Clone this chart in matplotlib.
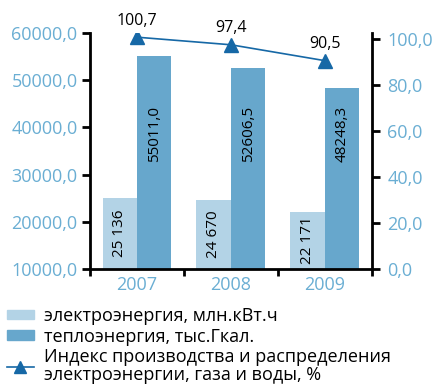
import matplotlib.pyplot as plt
import numpy as np
from matplotlib.patches import Patch
from matplotlib.lines import Line2D

plt.rcParams['font.family'] = ['Open Sans', 'DejaVu Sans']

years = ['2007', '2008', '2009']
elec = [25136, 24670, 22171]
heat = [55011.0, 52606.5, 48248.3]
index = [100.7, 97.4, 90.5]
elec_labels = ['25 136', '24 670', '22 171']
heat_labels = ['55011,0', '52606,5', '48248,3']
index_labels = ['100,7', '97,4', '90,5']

c_light = '#b3d3e6'
c_dark = '#67a7cc'
c_line = '#1668a6'
c_tick = '#6aaed3'

fig = plt.figure(figsize=(4.37, 3.86), dpi=100)
ax = fig.add_axes([0.206, 0.303, 0.645, 0.612])
ax2 = ax.twinx()

x = np.arange(len(years))
w = 0.367
base = 10000
ax.bar(x - w / 2, np.array(elec) - base, w, bottom=base, color=c_light)
ax.bar(x + w / 2, np.array(heat) - base, w, bottom=base, color=c_dark)

for i in range(len(years)):
    ax.text(x[i] - w / 2, (base + elec[i]) / 2, elec_labels[i], rotation=90,
            ha='center', va='center', fontsize=11)
    ax.text(x[i] + w / 2, 38600, heat_labels[i], rotation=90,
            ha='center', va='center', fontsize=11)

ax.set_ylim(10000, 60000)
ax.set_xlim(-0.5, 2.5)
ax.set_yticks(np.arange(10000, 60001, 10000))
ax.set_yticklabels([f'{v:.1f}'.replace('.', ',') for v in np.arange(10000, 60001, 10000)])
ax.set_xticks(x)
ax.set_xticklabels(years)
ax.set_xticks([-0.5, 0.5, 1.5, 2.5], minor=True)
ax.tick_params(axis='x', which='major', length=0, pad=5, labelsize=13, labelcolor=c_tick)
ax.tick_params(axis='x', which='minor', length=5, width=2, direction='out')
ax.tick_params(axis='y', length=6, width=2, direction='out', labelsize=13, labelcolor=c_tick, pad=3)

ax2.plot(x, index, color=c_line, lw=1.2, marker='^', markersize=10)
for i in range(len(years)):
    ax2.annotate(index_labels[i], (x[i], index[i]), xytext=(0, 6), textcoords='offset points',
                 ha='center', va='bottom', fontsize=11.5)
ax2.set_ylim(0, 102.6)
ax2.set_yticks(np.arange(0, 101, 20))
ax2.set_yticklabels([f'{v:.1f}'.replace('.', ',') for v in np.arange(0, 101, 20)])
ax2.tick_params(axis='y', length=6, width=2, direction='out', labelsize=13, labelcolor=c_tick, pad=5)

for a in (ax, ax2):
    a.spines['top'].set_visible(False)
    for s in ('left', 'right', 'bottom'):
        a.spines[s].set_linewidth(2)
ax.spines['right'].set_visible(False)
ax2.spines['left'].set_visible(False)
ax2.spines['bottom'].set_visible(False)

handles = [Patch(color=c_light), Patch(color=c_dark),
           Line2D([], [], color=c_line, lw=1.2, marker='^', markersize=8)]
labels = ['электроэнергия, млн.кВт.ч', 'теплоэнергия, тыс.Гкал.',
          'Индекс производства и распределения\nэлектроэнергии, газа и воды, %']
leg = fig.legend(handles, labels, loc='upper left', bbox_to_anchor=(0.015, 0.205), frameon=False,
                 fontsize=13, handlelength=1.5, handleheight=0.45, handletextpad=0.55,
                 labelspacing=0.15, borderaxespad=0, borderpad=0)
for t in leg.get_texts():
    t.set_linespacing(0.95)

fig.savefig('out.png', dpi=100)
